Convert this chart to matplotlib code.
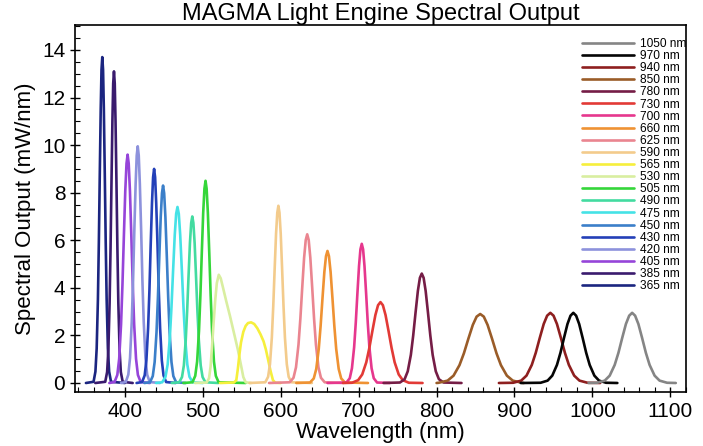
#!/usr/bin/env python3

import matplotlib
matplotlib.use("Agg")
import matplotlib.pyplot as plt
from matplotlib.ticker import MultipleLocator

plt.rcParams['font.family'] = ['Liberation Sans', 'DejaVu Sans']

# channel names, in legend order (top to bottom)
channels = ["1050 nm", "970 nm", "940 nm", "850 nm", "780 nm", "730 nm", "700 nm",
            "660 nm", "625 nm", "590 nm", "565 nm", "530 nm", "505 nm", "490 nm",
            "475 nm", "450 nm", "430 nm", "420 nm", "405 nm", "385 nm", "365 nm"]

colors = ["#858585", "#050505", "#8e1f1f", "#9a5c28", "#751d46", "#e23a36", "#e6378d",
          "#ef9233", "#ea8590", "#f3cb8c", "#f6ef3c", "#d9eea0", "#35d63a", "#43dba0",
          "#45e2e6", "#3b7fc9", "#2440b8", "#8d92dc", "#9645d9", "#3a1b6e", "#1b2580"]

# spectra: wavelength (nm) and output (mW/nm)
wl = {
    "365 nm": [350, 359.8, 362.2, 363.8, 365.4, 366.6, 367.8, 369, 370, 371, 372, 373, 374.2,
               375.4, 376.6, 378.2, 379.8, 382.2, 400],
    "385 nm": [362, 374.8, 377.2, 378.8, 380.4, 381.6, 382.8, 384, 385, 386, 387, 388, 389.2,
               390.4, 391.6, 393.2, 394.8, 397.2, 410],
    "405 nm": [380, 386.7, 390.3, 392.7, 395.1, 396.9, 398.7, 400.5, 402.1, 403.5, 404.9,
               406.5, 408.3, 410.1, 411.9, 414.3, 416.7, 420.3, 432],
    "420 nm": [395, 401.1, 404.4, 406.6, 408.8, 410.5, 412.1, 413.8, 415.2, 416.5, 417.8,
               419.2, 420.9, 422.5, 424.2, 426.4, 428.6, 431.9, 445],
    "430 nm": [415, 422.1, 425.4, 427.6, 429.8, 431.5, 433.1, 434.8, 436.2, 437.5, 438.8,
               440.2, 441.9, 443.5, 445.2, 447.4, 449.6, 452.9, 465],
    "450 nm": [425, 432.2, 435.8, 438.2, 440.6, 442.4, 444.2, 446, 447.6, 449, 450.4, 452,
               453.8, 455.6, 457.4, 459.8, 462.2, 465.8, 478],
    "475 nm": [440, 447.9, 452.1, 454.9, 457.7, 459.8, 461.9, 464, 465.8, 467.5, 469.2, 471,
               473.1, 475.2, 477.3, 480.1, 482.9, 487.1, 500],
    "490 nm": [460, 469.7, 473.3, 475.7, 478.1, 479.9, 481.7, 483.5, 485.1, 486.5, 487.9,
               489.5, 491.3, 493.1, 494.9, 497.3, 499.7, 503.3, 520],
    "505 nm": [475, 486.7, 490.3, 492.7, 495.1, 496.9, 498.7, 500.5, 502.1, 503.5, 504.9,
               506.5, 508.3, 510.1, 511.9, 514.3, 516.7, 520.3, 555],
    "530 nm": [490, 505, 508, 510, 512, 514, 516, 518, 520.5, 523, 526, 530, 535, 540, 545,
               549, 552, 555, 562],
    "565 nm": [522, 540, 543, 545, 547, 549, 552, 555, 558, 562, 566, 570, 574, 578, 581, 584,
               587, 590, 593, 600],
    "590 nm": [560, 580.2, 583.8, 586.2, 588.6, 590.4, 592.2, 594, 595.6, 597, 598.4, 600,
               601.8, 603.6, 605.4, 607.8, 610.2, 613.8, 640],
    "625 nm": [585, 611.6, 616.4, 619.6, 622.8, 625.2, 627.6, 630, 632.1, 634, 635.9, 638,
               640.4, 642.8, 645.2, 648.4, 651.6, 656.4, 680],
    "660 nm": [620, 637.6, 642.4, 645.6, 648.8, 651.2, 653.6, 656, 658.1, 660, 661.9, 664,
               666.4, 668.8, 671.2, 674.4, 677.6, 682.4, 712],
    "700 nm": [660, 684.4, 688.6, 691.4, 694.2, 696.3, 698.4, 700.5, 702.3, 704, 705.7, 707.5,
               709.6, 711.7, 713.8, 716.6, 719.4, 723.6, 740],
    "730 nm": [680, 691.6, 699.4, 704.6, 709.8, 713.7, 717.6, 721.5, 724.9, 728, 731.1, 734.5,
               738.4, 742.3, 746.2, 751.4, 756.6, 764.4, 782],
    "780 nm": [732, 753, 759, 763, 767, 770, 773, 776, 778.6, 781, 783.4, 786, 789, 792, 795,
               799, 803, 809, 832],
    "850 nm": [800, 802.8, 814.2, 821.8, 829.4, 835.1, 840.8, 846.5, 851.4, 856, 860.6, 865.5,
               871.2, 876.9, 882.6, 890.2, 897.8, 909.2, 912],
    "940 nm": [880, 898.4, 908.6, 915.4, 922.2, 927.3, 932.4, 937.5, 941.9, 946, 950.1, 954.5,
               959.6, 964.7, 969.8, 976.6, 983.4, 993.6, 1010],
    "970 nm": [908, 933.5, 942.5, 948.5, 954.5, 959, 963.5, 968, 971.9, 975.5, 979.1, 983,
               987.5, 992, 996.5, 1002.5, 1008.5, 1017.5, 1032],
    "1050 nm": [995, 1006.2, 1015.8, 1022.2, 1028.6, 1033.4, 1038.2, 1043, 1047.2, 1051,
                1054.8, 1059, 1063.8, 1068.6, 1073.4, 1079.8, 1086.2, 1095.8, 1107],
}

mw = {
    "365 nm": [0, 0.05, 0.48, 1.45, 3.52, 5.92, 8.8, 11.52, 13.17, 13.7, 13.17, 11.52, 8.8,
               5.92, 3.52, 1.45, 0.48, 0.05, 0],
    "385 nm": [0, 0.05, 0.46, 1.39, 3.37, 5.66, 8.41, 11.02, 12.59, 13.1, 12.59, 11.02, 8.41,
               5.66, 3.37, 1.39, 0.46, 0.05, 0],
    "405 nm": [0, 0.04, 0.34, 1.02, 2.47, 4.15, 6.16, 8.07, 9.23, 9.6, 9.23, 8.07, 6.16,
               4.15, 2.47, 1.02, 0.34, 0.04, 0],
    "420 nm": [0, 0.04, 0.35, 1.05, 2.56, 4.3, 6.39, 8.37, 9.56, 9.95, 9.56, 8.37, 6.39,
               4.3, 2.56, 1.05, 0.35, 0.04, 0],
    "430 nm": [0, 0.04, 0.32, 0.95, 2.31, 3.89, 5.78, 7.57, 8.65, 9.0, 8.65, 7.57, 5.78,
               3.89, 2.31, 0.95, 0.32, 0.04, 0],
    "450 nm": [0, 0.03, 0.29, 0.88, 2.13, 3.59, 5.33, 6.98, 7.98, 8.3, 7.98, 6.98, 5.33,
               3.59, 2.13, 0.88, 0.29, 0.03, 0],
    "475 nm": [0, 0.03, 0.26, 0.78, 1.9, 3.2, 4.75, 6.22, 7.11, 7.4, 7.11, 6.22, 4.75,
               3.2, 1.9, 0.78, 0.26, 0.03, 0],
    "490 nm": [0, 0.03, 0.25, 0.74, 1.8, 3.02, 4.49, 5.89, 6.73, 7.0, 6.73, 5.89, 4.49,
               3.02, 1.8, 0.74, 0.25, 0.03, 0],
    "505 nm": [0, 0.03, 0.3, 0.9, 2.18, 3.67, 5.46, 7.15, 8.17, 8.5, 8.17, 7.15, 5.46,
               3.67, 2.18, 0.9, 0.3, 0.03, 0],
    "530 nm": [0, 0.02, 0.2, 0.7, 1.6, 2.6, 3.5, 4.2, 4.55, 4.4, 4.0, 3.45, 2.8, 2.1, 1.4,
               0.75, 0.25, 0.03, 0],
    "565 nm": [0, 0.02, 0.12, 0.6, 1.2, 1.7, 2.15, 2.4, 2.52, 2.55, 2.48, 2.3, 2.05, 1.75,
               1.4, 0.95, 0.5, 0.12, 0.01, 0],
    "590 nm": [0, 0.03, 0.26, 0.79, 1.91, 3.22, 4.78, 6.27, 7.16, 7.45, 7.16, 6.27, 4.78,
               3.22, 1.91, 0.79, 0.26, 0.03, 0],
    "625 nm": [0, 0.03, 0.22, 0.66, 1.61, 2.7, 4.01, 5.26, 6.01, 6.25, 6.01, 5.26, 4.01,
               2.7, 1.61, 0.66, 0.22, 0.03, 0],
    "660 nm": [0, 0.02, 0.19, 0.59, 1.43, 2.4, 3.56, 4.67, 5.33, 5.55, 5.33, 4.67, 3.56,
               2.4, 1.43, 0.59, 0.19, 0.02, 0],
    "700 nm": [0, 0.02, 0.2, 0.62, 1.5, 2.53, 3.76, 4.92, 5.62, 5.85, 5.62, 4.92, 3.76,
               2.53, 1.5, 0.62, 0.2, 0.02, 0],
    "730 nm": [0, 0.01, 0.12, 0.36, 0.87, 1.47, 2.18, 2.86, 3.27, 3.4, 3.27, 2.86, 2.18,
               1.47, 0.87, 0.36, 0.12, 0.01, 0],
    "780 nm": [0, 0.02, 0.16, 0.49, 1.18, 1.99, 2.95, 3.87, 4.42, 4.6, 4.42, 3.87, 2.95,
               1.99, 1.18, 0.49, 0.16, 0.02, 0],
    "850 nm": [0, 0.01, 0.1, 0.31, 0.75, 1.25, 1.86, 2.44, 2.79, 2.9, 2.79, 2.44, 1.86,
               1.25, 0.75, 0.31, 0.1, 0.01, 0],
    "940 nm": [0, 0.01, 0.1, 0.31, 0.76, 1.27, 1.89, 2.48, 2.83, 2.95, 2.83, 2.48, 1.89,
               1.27, 0.76, 0.31, 0.1, 0.01, 0],
    "970 nm": [0, 0.01, 0.1, 0.31, 0.76, 1.27, 1.89, 2.48, 2.83, 2.95, 2.83, 2.48, 1.89,
               1.27, 0.76, 0.31, 0.1, 0.01, 0],
    "1050 nm": [0, 0.01, 0.1, 0.31, 0.76, 1.27, 1.89, 2.48, 2.83, 2.95, 2.83, 2.48, 1.89,
                1.27, 0.76, 0.31, 0.1, 0.01, 0],
}

fig = plt.figure(figsize=(7.03, 4.46), dpi=100)
ax = fig.add_axes([0.1067, 0.121, 0.869, 0.823])

# draw shortest wavelength first, legend lists longest first
handles = {}
for name, col in zip(channels[::-1], colors[::-1]):
    ln, = ax.plot(wl[name], mw[name], color=col, lw=1.9, solid_joinstyle='round',
                  solid_capstyle='round', label=name)
    handles[name] = ln

ax.set_xlim(336, 1120)
ax.set_ylim(-0.38, 15.05)
ax.xaxis.set_major_locator(MultipleLocator(100))
ax.xaxis.set_minor_locator(MultipleLocator(20))
ax.yaxis.set_major_locator(MultipleLocator(2))
ax.yaxis.set_minor_locator(MultipleLocator(0.5))
ax.tick_params(which='major', direction='inout', length=7, width=1, labelsize=15)
ax.tick_params(which='minor', direction='in', length=3.5, width=0.8)
for s in ax.spines.values():
    s.set_linewidth(1.2)

ax.set_xlabel("Wavelength (nm)", fontsize=16, labelpad=1)
ax.set_ylabel("Spectral Output (mW/nm)", fontsize=16, labelpad=4)
ax.set_title("MAGMA Light Engine Spectral Output", fontsize=17, pad=3)

ax.legend([handles[n] for n in channels], channels, loc='upper right',
          bbox_to_anchor=(1.003, 0.968), frameon=False, fontsize=8.6,
          handlelength=4.3, handletextpad=0.55, labelspacing=0.01,
          borderaxespad=0.0, borderpad=0.1)

fig.savefig("out.png", dpi=100)
